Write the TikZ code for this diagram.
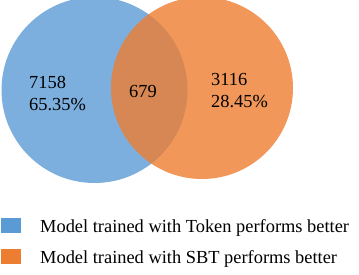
\documentclass[tikz,border=0pt]{standalone}
\usepackage{fontspec}
\setmainfont{Liberation Serif}
\definecolor{cblue}{HTML}{5B9BD5}
\definecolor{corange}{HTML}{ED7D31}
\begin{document}
\begin{tikzpicture}[x=1pt,y=-1pt,
  lbl/.style={font=\fontsize{18.4}{22}\selectfont, inner sep=0pt, anchor=base west},
  key/.style={minimum width=20pt, minimum height=15pt, inner sep=0pt, anchor=north west},
  venn/.style={fill opacity=0.8}]
\useasboundingbox (0,0) rectangle (359,274);
\fill[cblue, venn] (94.5,90) circle[radius=93pt];
\fill[corange, venn] (202,88) circle[radius=91pt];
\node[lbl] (a1) at (29,88) {7158};
\node[lbl] (a2) at (29,110) {65.35\%};
\node[lbl] (c) at (129,97) {679};
\node[lbl] (b1) at (211,85) {3116};
\node[lbl] (b2) at (211,107) {28.45\%};
\node[key, fill=cblue] (k1) at (1,218) {};
\node[key, fill=corange] (k2) at (1,249) {};
\node[lbl] (t1) at (40,232.7) {Model trained with Token performs better};
\node[lbl] (t2) at (40,263.3) {Model trained with SBT performs better};
\end{tikzpicture}
\end{document}
